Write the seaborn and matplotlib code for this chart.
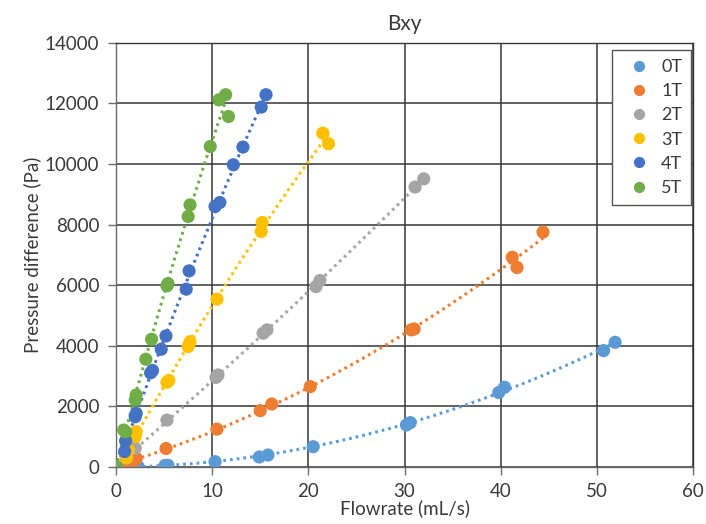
import numpy as np
import pandas as pd
import matplotlib
matplotlib.use("Agg")
import matplotlib.pyplot as plt
import seaborn as sns

# Flowrate (mL/s) and pressure difference (Pa) for each magnetic field strength
flow_0T = [0, 0.9, 2.3, 5.1, 5.4, 10.3, 14.9, 15.8, 20.5, 30.2, 30.6, 39.8, 40.4, 50.7, 51.9]
dp_0T = [0, 0, 0, 40, 45, 165, 320, 385, 660, 1380, 1455, 2450, 2625, 3835, 4110]

flow_1T = [0, 1.1, 2.0, 2.1, 5.2, 10.5, 15.0, 16.2, 20.2, 30.7, 31.0, 41.2, 41.7, 44.4]
dp_1T = [0, 110, 220, 280, 600, 1240, 1850, 2070, 2645, 4520, 4550, 6920, 6580, 7750]

flow_2T = [0, 1.1, 2.0, 5.3, 10.4, 10.6, 15.3, 15.7, 20.8, 21.2, 31.1, 32.0]
dp_2T = [0, 280, 610, 1540, 2950, 3030, 4410, 4520, 5950, 6150, 9240, 9510]

flow_3T = [0, 1.1, 1.3, 2.0, 2.1, 5.3, 5.5, 7.5, 7.7, 10.5, 15.1, 15.2, 21.5, 22.1]
dp_3T = [0, 290, 550, 990, 1160, 2790, 2850, 3970, 4130, 5535, 7770, 8070, 11020, 10670]

flow_4T = [0, 0.9, 1.0, 2.0, 2.1, 3.6, 3.8, 4.7, 5.2, 7.3, 7.6, 10.3, 10.8, 12.2, 13.2, 15.1, 15.6]
dp_4T = [0, 500, 850, 1650, 1760, 3100, 3180, 3880, 4320, 5865, 6470, 8595, 8730, 9975, 10560, 11880, 12290]

flow_5T = [0, 0.8, 1.0, 2.0, 2.1, 3.1, 3.7, 5.3, 5.4, 7.5, 7.7, 9.8, 10.7, 11.4, 11.7]
dp_5T = [0, 1210, 1150, 2205, 2370, 3550, 4210, 5975, 6050, 8265, 8650, 10580, 12120, 12290, 11570]

fields = ["0T", "1T", "2T", "3T", "4T", "5T"]
flows = [flow_0T, flow_1T, flow_2T, flow_3T, flow_4T, flow_5T]
dps = [dp_0T, dp_1T, dp_2T, dp_3T, dp_4T, dp_5T]
colors = ["#5B9BD5", "#ED7D31", "#A5A5A5", "#FFC000", "#4472C4", "#70AD47"]

df = pd.concat(
    [pd.DataFrame({"Flowrate": f, "Pressure": p, "Field": name})
     for name, f, p in zip(fields, flows, dps)],
    ignore_index=True,
)

sns.set_theme(style="white")
plt.rcParams["font.family"] = ["Lato", "DejaVu Sans"]
text_color = "#3a3a3a"
grid_color = "#353535"

fig = plt.figure(figsize=(7.06, 5.24), dpi=100)
ax = fig.add_axes([0.1643, 0.1094, 0.8173, 0.8086])

# Quadratic trendlines (dotted) for each field strength
for name, f, p, c in zip(fields, flows, dps, colors):
    coef = np.polyfit(f, p, 2)
    xs = np.linspace(min(f), max(f), 200)
    ax.plot(xs, np.polyval(coef, xs), color=c, linewidth=2.2,
            linestyle=(0, (0.9, 1.3)), zorder=2, label="_nolegend_")

sns.scatterplot(data=df, x="Flowrate", y="Pressure", hue="Field",
                hue_order=fields, palette=colors, s=90, linewidth=0,
                ax=ax, zorder=3)

ax.set_xlim(0, 60)
ax.set_ylim(0, 14000)
ax.set_xticks(np.arange(0, 61, 10))
ax.set_yticks(np.arange(0, 14001, 2000))
ax.grid(True, color=grid_color, linewidth=1.1)
ax.set_axisbelow(True)
for side, sp in ax.spines.items():
    sp.set_color("#6a6a6a")
    sp.set_linewidth(1.0)
ax.spines["top"].set_color(grid_color)
ax.spines["right"].set_color(grid_color)

ax.tick_params(axis="both", which="both", direction="out", length=6, width=1,
               color="#6a6a6a", labelsize=13.5, labelcolor=text_color, pad=6,
               bottom=True, left=True)

ax.set_xlabel("Flowrate (mL/s)", fontsize=13.5, color=text_color, labelpad=-1)
ax.set_ylabel("Pressure difference (Pa)", fontsize=13.5, color=text_color, labelpad=3)
ax.set_title("Bxy", fontsize=15, color=text_color, pad=9)

leg = ax.legend(loc="upper right", bbox_to_anchor=(0.997, 0.983),
                borderaxespad=0, fontsize=13, frameon=True, fancybox=False,
                framealpha=1, edgecolor="#555555", labelspacing=0.45,
                handletextpad=0.2, borderpad=0.5, markerscale=0.85)
for t in leg.get_texts():
    t.set_color(text_color)
leg.get_frame().set_linewidth(1.0)

fig.savefig("out.png", dpi=100)
